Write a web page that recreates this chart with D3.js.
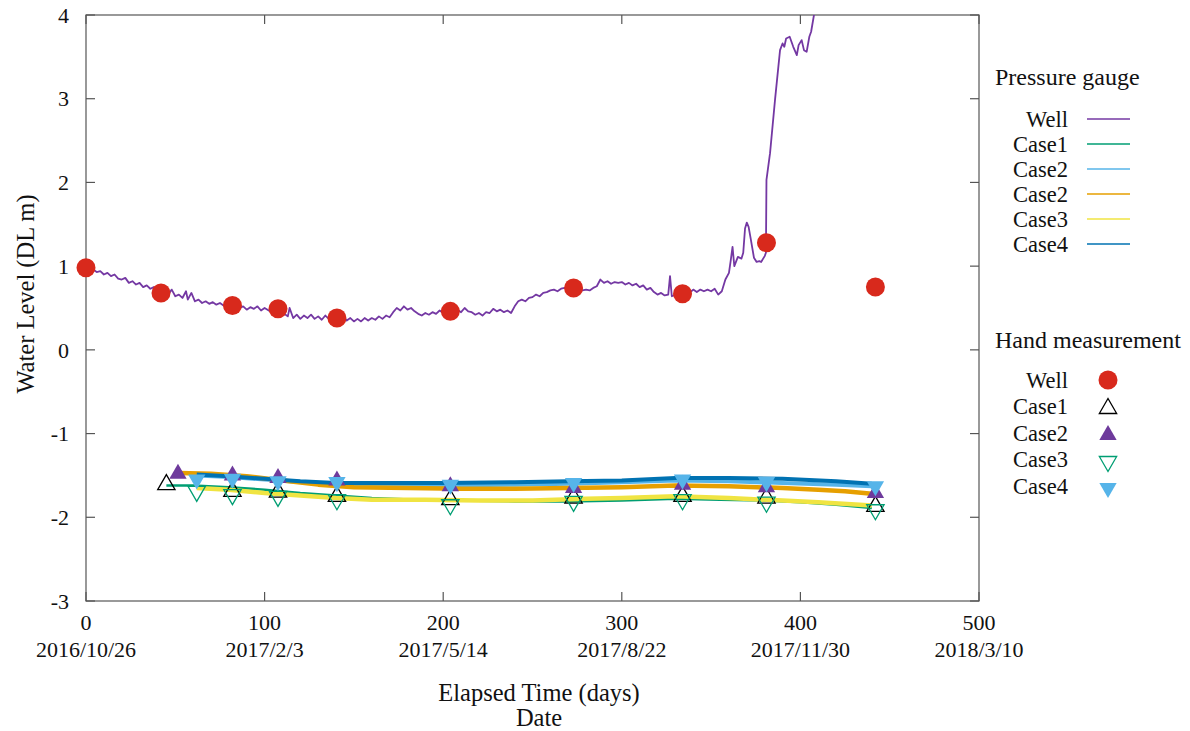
<!DOCTYPE html>
<html>
<head>
<meta charset="utf-8">
<script src="https://cdn.jsdelivr.net/npm/d3@7"></script>
<style>
  body { margin: 0; background: #fff; }
  text { font-family: "Liberation Serif", "Times New Roman", serif; fill: #111; }
</style>
</head>
<body>
<svg width="1190" height="731"></svg>
<script>
// tick labels
var dayTicks = [0, 100, 200, 300, 400, 500];
var dateLabels = ["2016/10/26", "2017/2/3", "2017/5/14", "2017/8/22", "2017/11/30", "2018/3/10"];
var levelTicks = [-3, -2, -1, 0, 1, 2, 3, 4];

// pressure gauge records [day, level]
var gaugeWell = [[0,0.98],[2,0.95],[4,0.96],[6,0.93],[8,0.94],[10,0.90],[12,0.92],[14,0.88],[16,0.90],[18,0.85],[20,0.84],[22,0.86],[24,0.80],[26,0.82],[28,0.78],[30,0.80],[32,0.75],[34,0.77],[36,0.73],[38,0.75],[40,0.70],[42,0.68],[44,0.70],[46,0.66],[48,0.72],[50,0.64],[52,0.66],[54,0.62],[56,0.70],[57,0.60],[59,0.68],[61,0.58],[63,0.60],[65,0.56],[67,0.58],[69,0.55],[71,0.57],[73,0.54],[75,0.56],[77,0.53],[79,0.55],[82,0.53],[84,0.55],[86,0.50],[88,0.52],[90,0.48],[92,0.51],[94,0.49],[96,0.52],[98,0.47],[100,0.50],[103,0.46],[105,0.49],[107,0.49],[109,0.47],[111,0.43],[113,0.40],[114,0.50],[116,0.38],[118,0.42],[120,0.37],[122,0.41],[124,0.38],[126,0.42],[128,0.37],[130,0.40],[132,0.36],[134,0.41],[136,0.37],[138,0.40],[140,0.39],[142,0.37],[144,0.40],[146,0.35],[148,0.38],[150,0.34],[152,0.37],[154,0.34],[156,0.38],[158,0.35],[160,0.38],[162,0.36],[164,0.40],[166,0.37],[168,0.41],[170,0.39],[172,0.45],[174,0.50],[176,0.47],[178,0.52],[180,0.48],[182,0.50],[184,0.46],[186,0.43],[188,0.41],[190,0.44],[192,0.42],[194,0.45],[196,0.43],[198,0.47],[200,0.44],[202,0.46],[204,0.46],[206,0.44],[208,0.48],[210,0.45],[212,0.50],[214,0.46],[216,0.45],[218,0.42],[220,0.44],[222,0.41],[224,0.45],[226,0.44],[228,0.49],[230,0.46],[232,0.48],[234,0.45],[236,0.47],[238,0.44],[240,0.52],[242,0.58],[244,0.60],[246,0.58],[248,0.62],[250,0.63],[252,0.66],[254,0.64],[256,0.68],[258,0.69],[260,0.71],[262,0.72],[264,0.70],[266,0.73],[268,0.74],[270,0.72],[273,0.74],[276,0.73],[278,0.71],[280,0.72],[282,0.71],[284,0.74],[286,0.76],[288,0.84],[290,0.80],[292,0.82],[294,0.79],[296,0.81],[298,0.80],[300,0.81],[302,0.78],[304,0.80],[306,0.77],[308,0.79],[310,0.75],[312,0.77],[314,0.72],[316,0.74],[318,0.69],[320,0.66],[322,0.68],[324,0.65],[326,0.66],[327,0.88],[328,0.64],[330,0.66],[332,0.65],[334,0.67],[336,0.70],[338,0.68],[340,0.72],[342,0.69],[344,0.72],[346,0.70],[348,0.72],[350,0.70],[352,0.73],[354,0.66],[356,0.70],[358,0.84],[360,0.92],[361,1.07],[362,1.23],[363,1.00],[365,1.11],[367,1.09],[368,1.16],[369,1.45],[370,1.52],[371,1.47],[372,1.35],[374,1.10],[375.5,1.05],[377,1.06],[378,1.05],[380,1.12],[380.7,1.16],[381,2.03],[383,2.35],[385.8,2.99],[388.6,3.58],[390,3.66],[391,3.62],[392,3.72],[394,3.74],[396,3.62],[398,3.52],[399,3.64],[400.7,3.70],[402,3.58],[403.5,3.56],[405,3.74],[406,3.80],[407.6,4.0],[409,4.2],[412,4.4]];
var gaugeCase1 = [[45,-1.62],[60,-1.62],[80,-1.64],[100,-1.67],[120,-1.71],[140,-1.74],[160,-1.77],[185,-1.79],[210,-1.80],[240,-1.81],[270,-1.81],[300,-1.80],[330,-1.78],[355,-1.79],[380,-1.80],[400,-1.82],[420,-1.85],[440,-1.89]];
var gaugeCase2a = [[62,-1.50],[80,-1.52],[100,-1.55],[120,-1.58],[140,-1.60],[170,-1.61],[200,-1.62],[240,-1.61],[270,-1.60],[300,-1.58],[330,-1.56],[360,-1.57],[390,-1.59],[420,-1.61],[440,-1.63]];
var gaugeCase2b = [[52,-1.47],[70,-1.48],[90,-1.51],[110,-1.56],[130,-1.61],[150,-1.64],[180,-1.65],[210,-1.66],[240,-1.66],[270,-1.65],[300,-1.64],[330,-1.62],[360,-1.63],[390,-1.65],[410,-1.67],[425,-1.69],[440,-1.72]];
var gaugeCase3 = [[62,-1.65],[80,-1.67],[100,-1.71],[120,-1.74],[140,-1.77],[160,-1.79],[190,-1.79],[220,-1.80],[250,-1.80],[280,-1.78],[300,-1.77],[330,-1.75],[360,-1.77],[390,-1.80],[410,-1.82],[440,-1.86]];
var gaugeCase4 = [[62,-1.49],[80,-1.51],[100,-1.54],[120,-1.57],[140,-1.59],[170,-1.59],[200,-1.59],[240,-1.58],[270,-1.57],[300,-1.56],[330,-1.53],[360,-1.53],[390,-1.54],[420,-1.57],[440,-1.60]];

// hand measurements [day, level]
var handWell = [[0,0.98],[42,0.68],[82,0.53],[107.5,0.49],[140.5,0.38],[204,0.46],[273,0.74],[334,0.67],[381,1.28],[442,0.75]];
var handCase1 = [[45,-1.61],[82,-1.69],[107.5,-1.70],[140.5,-1.75],[204,-1.79],[273,-1.77],[334,-1.75],[381,-1.77],[442,-1.87]];
var handCase2 = [[51.5,-1.48],[82,-1.50],[107.5,-1.53],[140.5,-1.56],[204,-1.63],[273,-1.65],[334,-1.61],[381,-1.64],[442,-1.71]];
var handCase3 = [[62,-1.69],[82,-1.73],[107.5,-1.75],[140.5,-1.79],[204,-1.85],[273,-1.81],[334,-1.79],[381,-1.82],[442,-1.91]];
var handCase4 = [[62,-1.55],[82,-1.54],[107.5,-1.57],[140.5,-1.58],[204,-1.61],[273,-1.59],[334,-1.55],[381,-1.58],[442,-1.63]];

var svg = d3.select("svg");
var plotL = 86, plotR = 979, plotT = 15, plotB = 601;

var x = d3.scaleLinear().domain([0, 500]).range([plotL, plotR]);
var y = d3.scaleLinear().domain([-3, 4]).range([plotB, plotT]);

svg.append("clipPath").attr("id", "clip")
  .append("rect").attr("x", plotL).attr("y", plotT).attr("width", plotR - plotL).attr("height", plotB - plotT);

// frame with inward ticks on all four sides
var frame = svg.append("g").attr("stroke", "#555").attr("stroke-width", 1.2);
frame.append("rect").attr("x", plotL).attr("y", plotT).attr("width", plotR - plotL).attr("height", plotB - plotT).attr("fill", "none");
dayTicks.forEach(function(d) {
  frame.append("line").attr("x1", x(d)).attr("x2", x(d)).attr("y1", plotB).attr("y2", plotB - 9);
  frame.append("line").attr("x1", x(d)).attr("x2", x(d)).attr("y1", plotT).attr("y2", plotT + 9);
});
levelTicks.forEach(function(d) {
  frame.append("line").attr("x1", plotL).attr("x2", plotL + 9).attr("y1", y(d)).attr("y2", y(d));
  frame.append("line").attr("x1", plotR).attr("x2", plotR - 9).attr("y1", y(d)).attr("y2", y(d));
});

// tick labels
svg.append("g").selectAll("text").data(dayTicks).enter().append("text")
  .attr("x", function(d) { return x(d); }).attr("y", 630)
  .attr("text-anchor", "middle").attr("font-size", 22)
  .text(function(d) { return d; });
svg.append("g").selectAll("text").data(dateLabels).enter().append("text")
  .attr("x", function(d, i) { return x(dayTicks[i]); }).attr("y", 657)
  .attr("text-anchor", "middle").attr("font-size", 22)
  .text(function(d) { return d; });
svg.append("g").selectAll("text").data(levelTicks).enter().append("text")
  .attr("x", 69).attr("y", function(d) { return y(d); }).attr("dy", "0.35em")
  .attr("text-anchor", "end").attr("font-size", 22)
  .text(function(d) { return d; });

// axis titles
svg.append("text").attr("x", 539).attr("y", 701).attr("text-anchor", "middle").attr("font-size", 24.5).text("Elapsed Time (days)");
svg.append("text").attr("x", 539).attr("y", 726).attr("text-anchor", "middle").attr("font-size", 24.5).text("Date");
svg.append("text").attr("transform", "translate(34,294) rotate(-90)").attr("text-anchor", "middle").attr("font-size", 24.5).text("Water Level (DL m)");

// pressure gauge lines
var line = d3.line().x(function(d) { return x(d[0]); }).y(function(d) { return y(d[1]); });
var gauges = [
  {name: "Well", data: gaugeWell, color: "#7438a3", w: 1.8},
  {name: "Case1", data: gaugeCase1, color: "#009e73", w: 2.5},
  {name: "Case2", data: gaugeCase2a, color: "#56b4e9", w: 4},
  {name: "Case2", data: gaugeCase2b, color: "#e69f00", w: 4.5},
  {name: "Case3", data: gaugeCase3, color: "#f0e442", w: 4.5},
  {name: "Case4", data: gaugeCase4, color: "#0072b2", w: 4}
];
var plot = svg.append("g").attr("clip-path", "url(#clip)");
gauges.forEach(function(s) {
  plot.append("path").datum(s.data)
    .attr("fill", "none").attr("stroke", s.color).attr("stroke-width", s.w)
    .attr("stroke-linejoin", "round").attr("d", line);
});

// hand measurement markers
var tri = d3.symbol().type(d3.symbolTriangle).size(130);
var hands = [
  {name: "Well", data: handWell, kind: "circle", fill: "#d8291c", stroke: "none"},
  {name: "Case1", data: handCase1, kind: "up", fill: "none", stroke: "#000"},
  {name: "Case2", data: handCase2, kind: "up", fill: "#6e3a9c", stroke: "none"},
  {name: "Case3", data: handCase3, kind: "down", fill: "none", stroke: "#009e73"},
  {name: "Case4", data: handCase4, kind: "down", fill: "#56b4e9", stroke: "none"}
];
function drawMarker(g, s, px, py) {
  if (s.kind == "circle") {
    g.append("circle").attr("cx", px).attr("cy", py).attr("r", 9.5).attr("fill", s.fill);
  } else {
    g.append("path").attr("d", tri)
      .attr("transform", "translate(" + px + "," + py + ")" + (s.kind == "down" ? " rotate(180)" : ""))
      .attr("fill", s.fill).attr("stroke", s.stroke).attr("stroke-width", 1.3);
  }
}
hands.forEach(function(s) {
  s.data.forEach(function(d) { drawMarker(svg, s, x(d[0]), y(d[1])); });
});

// legend
var lg = svg.append("g");
lg.append("text").attr("x", 995).attr("y", 85).attr("font-size", 24).text("Pressure gauge");
gauges.forEach(function(s, i) {
  var ry = 119 + i * 25;
  lg.append("text").attr("x", 1068).attr("y", ry).attr("dy", "0.35em").attr("text-anchor", "end").attr("font-size", 22.5).text(s.name);
  lg.append("line").attr("x1", 1087).attr("x2", 1130).attr("y1", ry).attr("y2", ry)
    .attr("stroke", s.color).attr("stroke-width", 1.6);
});
lg.append("text").attr("x", 995).attr("y", 348).attr("font-size", 24).text("Hand measurement");
hands.forEach(function(s, i) {
  var ry = 380 + i * 26.5;
  lg.append("text").attr("x", 1068).attr("y", ry).attr("dy", "0.35em").attr("text-anchor", "end").attr("font-size", 22.5).text(s.name);
  drawMarker(lg, s, 1108, ry + (s.kind == "circle" ? 0 : 2));
});
</script>
</body>
</html>
